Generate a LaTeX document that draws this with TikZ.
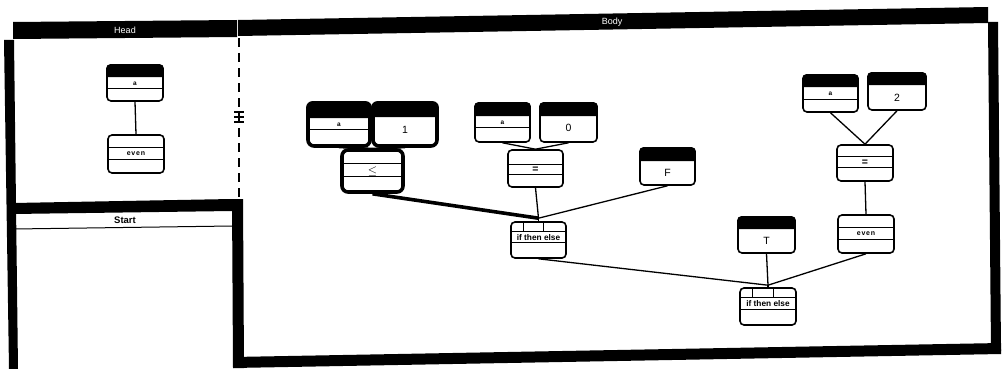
\documentclass[tikz,border=0pt]{standalone}
\usepackage{fontspec}
\setmainfont{Liberation Sans}
\newfontfamily\widefont[LetterSpace=12]{Liberation Sans}
\usetikzlibrary{calc}
\newcommand{\hdrfill}[3][4pt]{%
  \fill ([yshift=-#3]#2.north west) [rounded corners=#1] -- (#2.north west) -- (#2.north east) [sharp corners] -- ([yshift=-#3]#2.north east) -- cycle;}
\begin{document}
\begin{tikzpicture}[x=1pt,y=-1pt,
  box/.style={draw, rounded corners=4pt, line width=1.6pt, inner sep=0pt, fill=white},
  hot/.style={line width=3.6pt, rounded corners=6pt},
  sep/.style={line width=1pt},
  wire/.style={line width=1.3pt},
  hotwire/.style={line width=3.6pt},
  big/.style={font=\fontsize{10.5}{11}\selectfont, inner sep=0pt},
  bigb/.style={font=\fontsize{10.5}{11}\selectfont\bfseries, inner sep=0pt},
  small/.style={font=\fontsize{6.5}{6}\selectfont\bfseries, inner sep=0pt},
  wd/.style={font=\fontsize{7}{8}\selectfont\widefont\bfseries, inner sep=0pt},
  ite/.style={font=\fontsize{8.3}{9}\selectfont\bfseries, inner sep=0pt},
  title/.style={font=\fontsize{9}{9}\selectfont, text=white, inner sep=0pt},
]
\useasboundingbox (0,0) rectangle (1003,369);

% ---------- frames ----------
\fill (13,22) -- (237,20) -- (237,37) -- (13,39) -- cycle;
\node[title] (headlbl) at (125,30) {Head};
\fill (238,20) -- (988,7) -- (988,23) -- (238,36) -- cycle;
\node[title] (bodylbl) at (612,22) {Body};
\fill (4,40) -- (14,40) -- (18,369) -- (9,369) -- cycle;
\fill (13,203) -- (232,199) -- (232,211) -- (13,214) -- cycle;
\draw[line width=1pt] (14,229) -- (232,226);
\node[font=\fontsize{9.5}{10}\selectfont\bfseries, inner sep=0pt] (startlbl) at (125,220) {Start};
\fill (232,199) -- (243,199) -- (244,368) -- (233,368) -- cycle;
\fill (233,357) -- (1001,343) -- (1001,354) -- (233,368) -- cycle;
\fill (988,22) -- (998,22) -- (1001,351) -- (991,351) -- cycle;
\draw[line width=1.5pt, dash pattern=on 9pt off 6pt] (239,38) -- (239,198);
\draw[line width=1.2pt] (234,112) -- (244,112) (234,117) -- (244,117) (234,122) -- (244,122);

% ---------- head ----------
\node[box, minimum width=56pt, minimum height=36pt] (ha) at (135,83) {};
\hdrfill{ha}{13pt}
\draw[sep] ([yshift=-24pt]ha.north west) -- ([yshift=-24pt]ha.north east);
\node[small] (hal) at (135,84) {a};
\node[box, minimum width=56pt, minimum height=38pt] (heven) at (136,154) {};
\draw[sep] ([yshift=-13pt]heven.north west) -- ([yshift=-13pt]heven.north east);
\draw[sep] ([yshift=-25pt]heven.north west) -- ([yshift=-25pt]heven.north east);
\node[wd] (hevenl) at (136,154) {even};
\draw[wire] (ha.south) -- (heven.north);

% ---------- body: left group ----------
\node[box, hot, minimum width=62pt, minimum height=43pt] (ba1) at (339,124.5) {};
\hdrfill[6pt]{ba1}{17pt}
\draw[sep] ([yshift=-28pt]ba1.north west) -- ([yshift=-28pt]ba1.north east);
\node[small] (ba1l) at (339,125) {a};
\node[box, hot, minimum width=64pt, minimum height=43pt] (b1) at (405,124.5) {};
\hdrfill[6pt]{b1}{16pt}
\node[big] (b1l) at (405,130) {1};
\node[box, hot, minimum width=61pt, minimum height=42pt] (ble) at (372.5,171) {};
\draw[sep] ([yshift=-15pt]ble.north west) -- ([yshift=-15pt]ble.north east);
\draw[sep] ([yshift=-28pt]ble.north west) -- ([yshift=-28pt]ble.north east);
\node[font=\fontsize{13}{13}\selectfont, inner sep=0pt] (blel) at (372.5,171.5) {$\le$};

\node[box, minimum width=55pt, minimum height=39pt] (ba2) at (502.5,122.5) {};
\hdrfill{ba2}{14pt}
\draw[sep] ([yshift=-25pt]ba2.north west) -- ([yshift=-25pt]ba2.north east);
\node[small] (ba2l) at (502.5,122.5) {a};
\node[box, minimum width=57pt, minimum height=39pt] (b0) at (568.5,122.5) {};
\hdrfill{b0}{14pt}
\node[big] (b0l) at (568.5,128) {0};
\node[box, minimum width=55pt, minimum height=37pt] (beq1) at (535.5,168.5) {};
\draw[sep] ([yshift=-15pt]beq1.north west) -- ([yshift=-15pt]beq1.north east);
\draw[sep] ([yshift=-25pt]beq1.north west) -- ([yshift=-25pt]beq1.north east);
\node[bigb] (beq1l) at (535.5,170) {=};

\node[box, minimum width=55pt, minimum height=37pt] (bF) at (667.5,166.5) {};
\hdrfill{bF}{14pt}
\node[big] (bFl) at (667.5,173) {F};

\node[box, minimum width=55pt, minimum height=36pt] (if1) at (538.5,240) {};
\draw[sep] ([yshift=-10pt]if1.north west) -- ([yshift=-10pt]if1.north east);
\draw[sep] ([yshift=-21pt]if1.north west) -- ([yshift=-21pt]if1.north east);
\draw[sep] ([xshift=-15.5pt]if1.north) -- ++(0,10);
\draw[sep] ([xshift=4.5pt]if1.north) -- ++(0,10);
\node[ite] (if1l) at (538.5,237.5) {if then else};

% ---------- body: right group ----------
\node[box, minimum width=57pt, minimum height=36pt] (bT) at (766.5,235) {};
\hdrfill{bT}{13pt}
\node[big] (bTl) at (766.5,240.5) {T};
\node[box, minimum width=55pt, minimum height=37pt] (ba3) at (830.5,93.5) {};
\hdrfill{ba3}{13pt}
\draw[sep] ([yshift=-25pt]ba3.north west) -- ([yshift=-25pt]ba3.north east);
\node[small] (ba3l) at (830.5,94) {a};
\node[box, minimum width=58pt, minimum height=37pt] (b2) at (897,91.5) {};
\hdrfill{b2}{13pt}
\node[big] (b2l) at (897,97.5) {2};
\node[box, minimum width=56pt, minimum height=36pt] (beq2) at (865,163) {};
\draw[sep] ([yshift=-12pt]beq2.north west) -- ([yshift=-12pt]beq2.north east);
\draw[sep] ([yshift=-23pt]beq2.north west) -- ([yshift=-23pt]beq2.north east);
\node[bigb] (beq2l) at (865,162.5) {=};
\node[box, minimum width=56pt, minimum height=38pt] (beven) at (866,234) {};
\draw[sep] ([yshift=-13pt]beven.north west) -- ([yshift=-13pt]beven.north east);
\draw[sep] ([yshift=-25pt]beven.north west) -- ([yshift=-25pt]beven.north east);
\node[wd] (bevenl) at (866,234) {even};

\node[box, minimum width=56pt, minimum height=37pt] (if2) at (768,306.5) {};
\draw[sep] ([yshift=-10pt]if2.north west) -- ([yshift=-10pt]if2.north east);
\draw[sep] ([yshift=-22pt]if2.north west) -- ([yshift=-22pt]if2.north east);
\draw[sep] ([xshift=-16pt]if2.north) -- ++(0,10);
\draw[sep] ([xshift=5pt]if2.north) -- ++(0,10);
\node[ite] (if2l) at (768,304) {if then else};

% ---------- connectors ----------
\coordinate (j1) at ([yshift=3pt]if1.north);
\coordinate (j2) at ([yshift=2pt]if2.north);
\draw[wire] (ba1.south) -- (ble.north);
\draw[wire] (b1.south) -- (ble.north);
\draw[hotwire] (ble.south) -- (j1);
\draw[wire] (ba2.south) -- (beq1.north);
\draw[wire] (b0.south) -- (beq1.north);
\draw[wire] (beq1.south) -- (j1);
\draw[wire] (bF.south) -- (j1);
\draw[wire] (j1) -- (if1.north);
\draw[wire] (ba3.south) -- (beq2.north);
\draw[wire] (b2.south) -- (beq2.north);
\draw[wire] (beq2.south) -- (beven.north);
\draw[wire] (bT.south) -- (j2);
\draw[wire] (beven.south) -- (j2);
\draw[wire] (if1.south) -- (j2);
\draw[wire] (j2) -- (if2.north);
\end{tikzpicture}
\end{document}
